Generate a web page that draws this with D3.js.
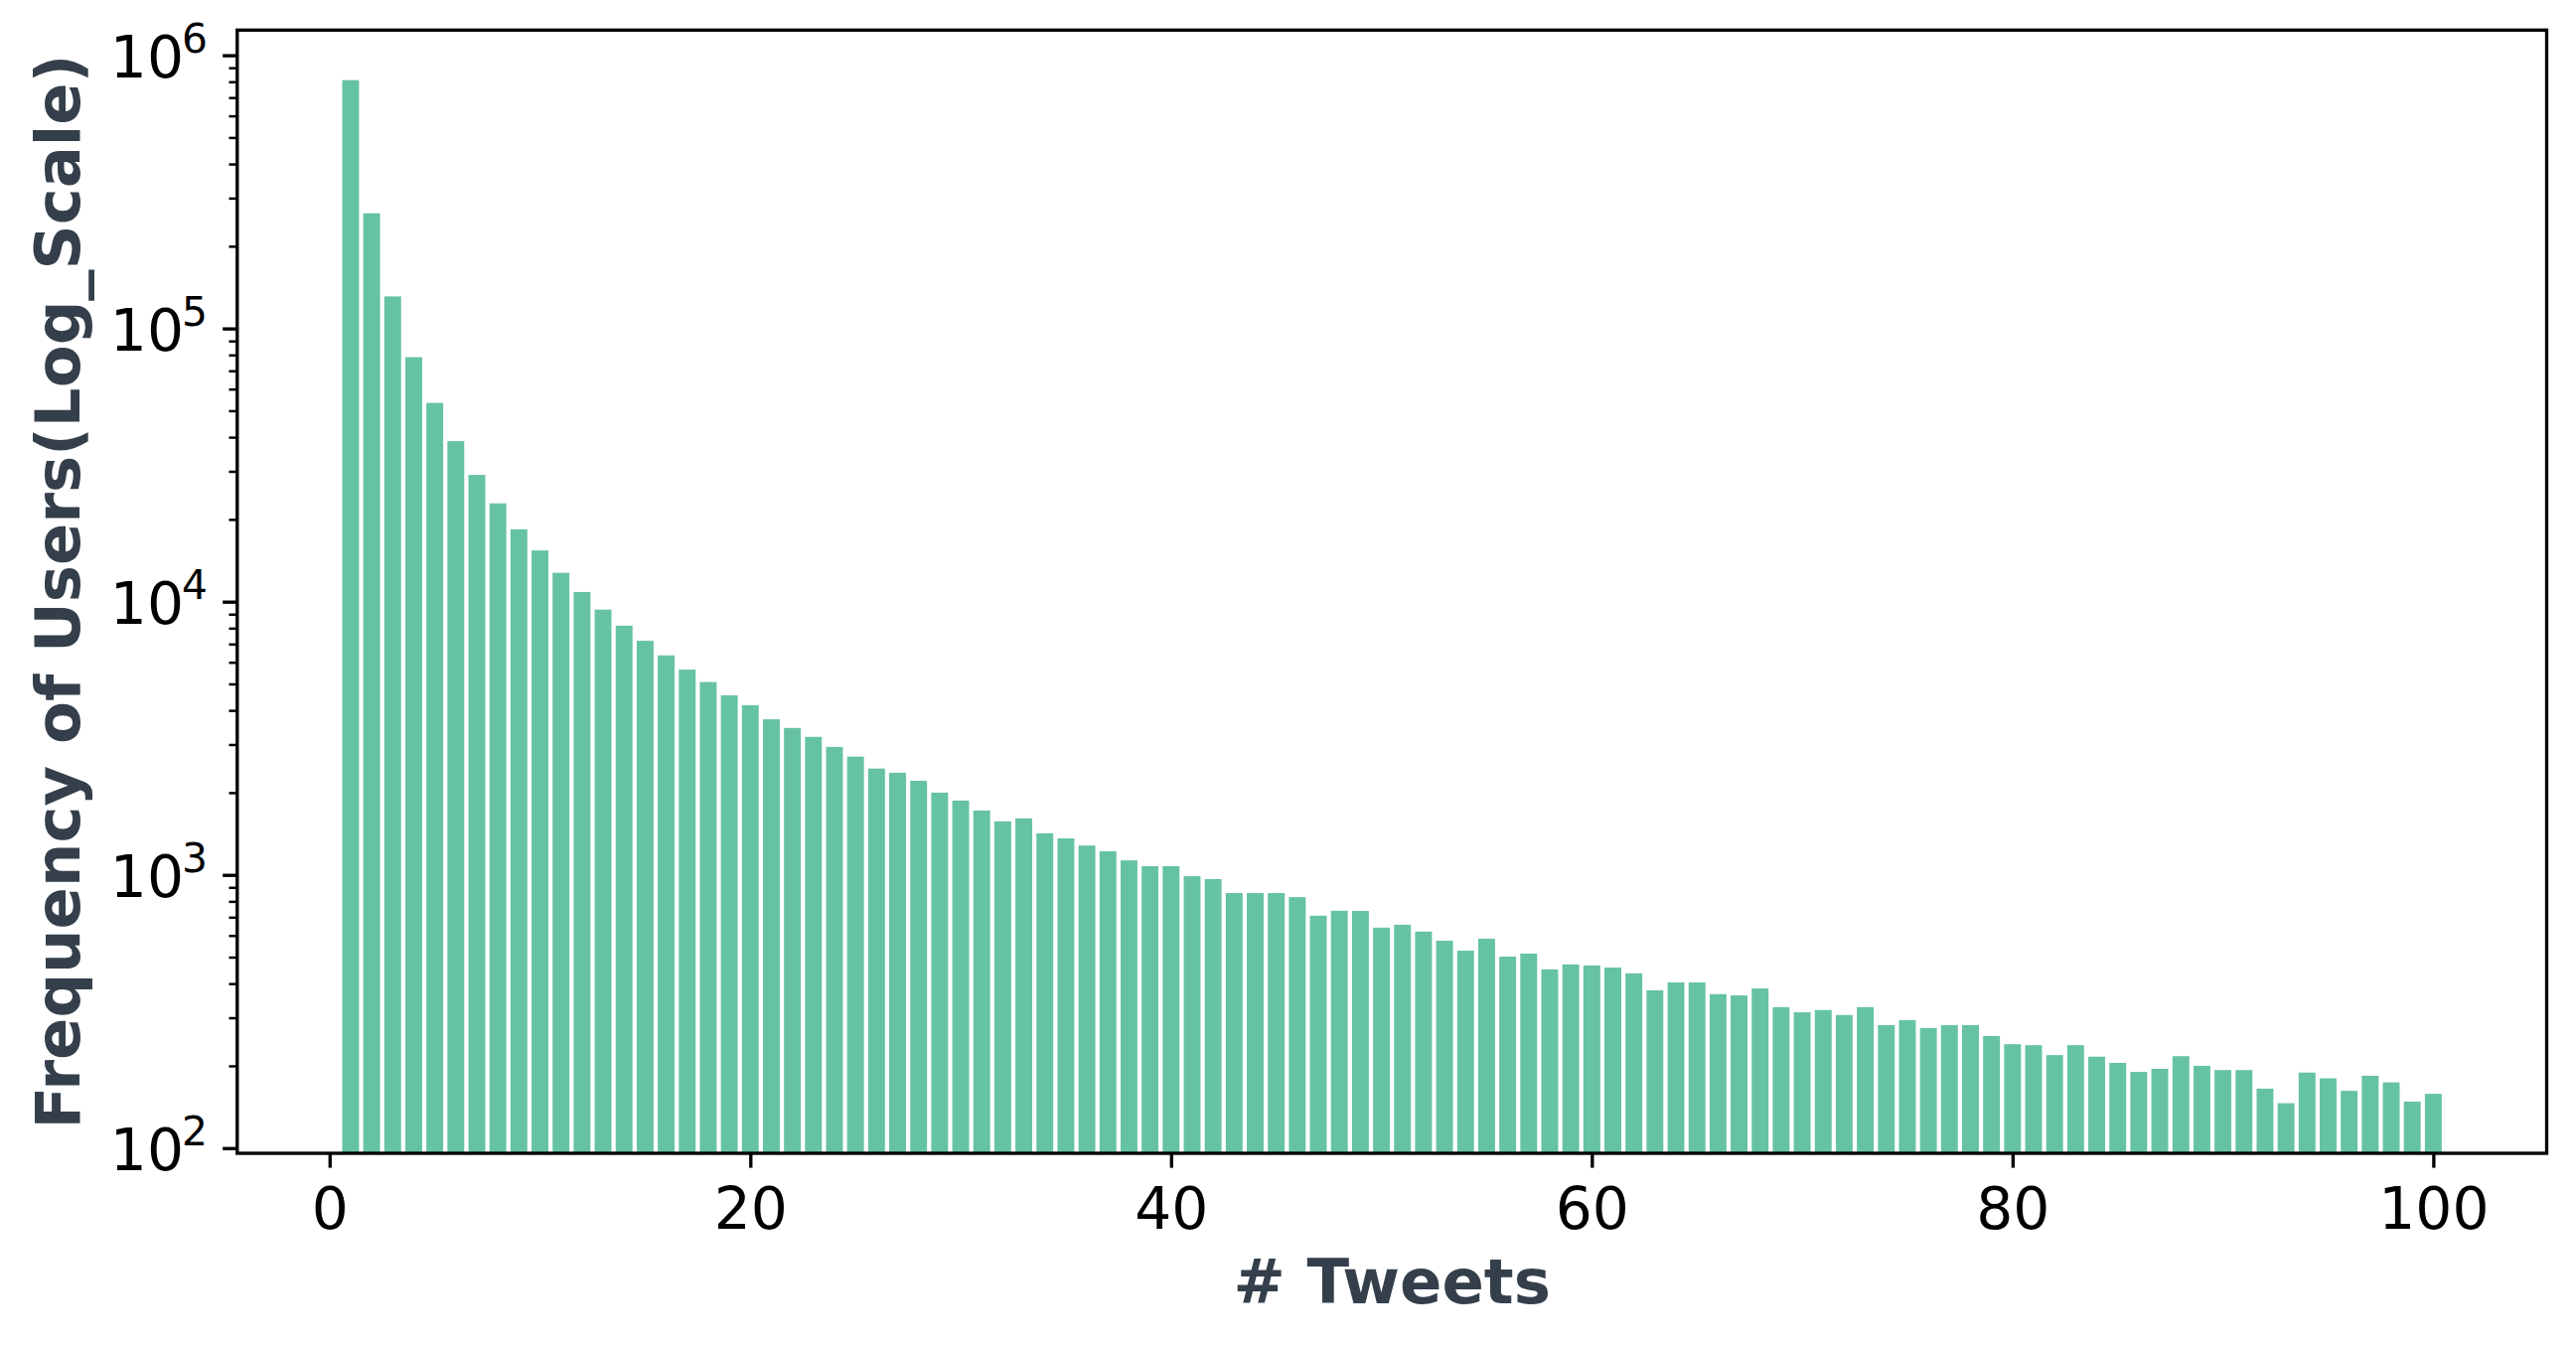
<!DOCTYPE html>
<html>
<head>
<meta charset="utf-8">
<script src="https://cdnjs.cloudflare.com/ajax/libs/d3/7.8.5/d3.min.js"></script>
<style>
  html, body { margin: 0; padding: 0; background: #ffffff; }
  svg { display: block; }
  text { font-family: "DejaVu Sans", sans-serif; }
</style>
</head>
<body>
<svg id="chart" width="2593" height="1355"></svg>
<script>
// ---- data ----
const tweets = [1,2,3,4,5,6,7,8,9,10,11,12,13,14,15,16,17,18,19,20,
  21,22,23,24,25,26,27,28,29,30,31,32,33,34,35,36,37,38,39,40,
  41,42,43,44,45,46,47,48,49,50,51,52,53,54,55,56,57,58,59,60,
  61,62,63,64,65,66,67,68,69,70,71,72,73,74,75,76,77,78,79,80,
  81,82,83,84,85,86,87,88,89,90,91,92,93,94,95,96,97,98,99,100];
const users = [811000,264000,131000,78500,53400,38700,29100,22900,18400,15400,
  12750,10850,9350,8170,7190,6360,5640,5080,4540,4180,
  3710,3450,3200,2940,2710,2450,2365,2210,2000,1870,
  1720,1570,1610,1420,1360,1280,1220,1130,1076,1076,
  989,965,858,858,858,829,709,739,738,641,
  657,620,574,528,584,502,515,451,470,466,
  458,436,378,404,404,366,362,384,328,314,
  320,307,328,282,294,275,282,282,257,240,
  238,219,238,216,205,190,195,217,200,193,
  193,165,146,189,180,162,184,174,148,158];
const xTicks = [0,20,40,60,80,100];
const yTickExp = [2,3,4,5,6];
const xLabel = "# Tweets";
const yLabel = "Frequency of Users(Log_Scale)";

// ---- layout ----
const W = 2593, H = 1355;
const plot = { left: 238.8, right: 2563.5, top: 30.3, bottom: 1161 };
const barColor = "#66c2a5";
const labelColor = "#343f4b";
const tickFont = 58.3;
const majorLen = 14.6, minorLen = 8.3, majorW = 3.33, minorW = 2.5;

const svg = d3.select("#chart");
svg.append("rect").attr("width", W).attr("height", H).attr("fill", "#fff");

const x = d3.scaleLinear().domain([-4.39, 105.39]).range([plot.left, plot.right]);
const y = d3.scaleLog().domain([95.7, 1.236e6]).range([plot.bottom, plot.top]);

const data = tweets.map((t, i) => ({ t, v: users[i] }));

// bars
svg.append("g").selectAll("rect").data(data).join("rect")
  .attr("x", d => x(d.t - 0.4))
  .attr("width", d => x(d.t + 0.4) - x(d.t - 0.4))
  .attr("y", d => y(d.v))
  .attr("height", d => plot.bottom - y(d.v))
  .attr("fill", barColor);

// x axis
const xAxis = svg.append("g")
  .attr("transform", `translate(0,${plot.bottom})`)
  .call(d3.axisBottom(x).tickValues(xTicks).tickSize(majorLen).tickPadding(14.6).tickFormat(d3.format("d")));
xAxis.select(".domain").remove();
xAxis.selectAll(".tick line").attr("stroke", "#000").attr("stroke-width", majorW);
xAxis.selectAll(".tick text")
  .attr("font-family", "DejaVu Sans").attr("font-size", tickFont).attr("fill", "#000")
  .attr("dy", null).attr("y", 76);

// y axis major
const majorVals = yTickExp.map(e => Math.pow(10, e));
const yAxis = svg.append("g")
  .attr("transform", `translate(${plot.left},0)`)
  .call(d3.axisLeft(y).tickValues(majorVals).tickSize(majorLen).tickFormat(""));
yAxis.select(".domain").remove();
yAxis.selectAll(".tick line").attr("stroke", "#000").attr("stroke-width", majorW);

// y axis minor
const minorVals = [];
yTickExp.concat([1]).forEach(e => {
  for (let m = 2; m <= 9; m++) {
    const v = m * Math.pow(10, e);
    if (v >= y.domain()[0] && v <= y.domain()[1]) minorVals.push(v);
  }
});
const yMinor = svg.append("g")
  .attr("transform", `translate(${plot.left},0)`)
  .call(d3.axisLeft(y).tickValues(minorVals).tickSize(minorLen).tickFormat(""));
yMinor.select(".domain").remove();
yMinor.selectAll(".tick line").attr("stroke", "#000").attr("stroke-width", minorW);

// y tick labels (10^k)
const yl = svg.append("g");
yTickExp.forEach(e => {
  const t = yl.append("text")
    .attr("x", 209)
    .attr("y", y(Math.pow(10, e)) + 22)
    .attr("text-anchor", "end")
    .attr("font-size", tickFont)
    .attr("fill", "#000");
  t.append("tspan").text("10");
  t.append("tspan").attr("font-size", 40.8).attr("dy", -25).attr("dx", -2).text(String(e));
});

// frame (spines)
svg.append("rect")
  .attr("x", plot.left).attr("y", plot.top)
  .attr("width", plot.right - plot.left).attr("height", plot.bottom - plot.top)
  .attr("fill", "none").attr("stroke", "#000").attr("stroke-width", majorW);

// axis labels
svg.append("text")
  .attr("x", (plot.left + plot.right) / 2).attr("y", 1311.7)
  .attr("text-anchor", "middle")
  .attr("font-size", 62.5).attr("font-weight", "bold")
  .attr("fill", labelColor)
  .text(xLabel);

svg.append("text")
  .attr("transform", `translate(80,${(plot.top + plot.bottom) / 2}) rotate(-90)`)
  .attr("text-anchor", "middle")
  .attr("font-size", 62.5).attr("font-weight", "bold")
  .attr("fill", labelColor)
  .text(yLabel);
</script>
</body>
</html>
